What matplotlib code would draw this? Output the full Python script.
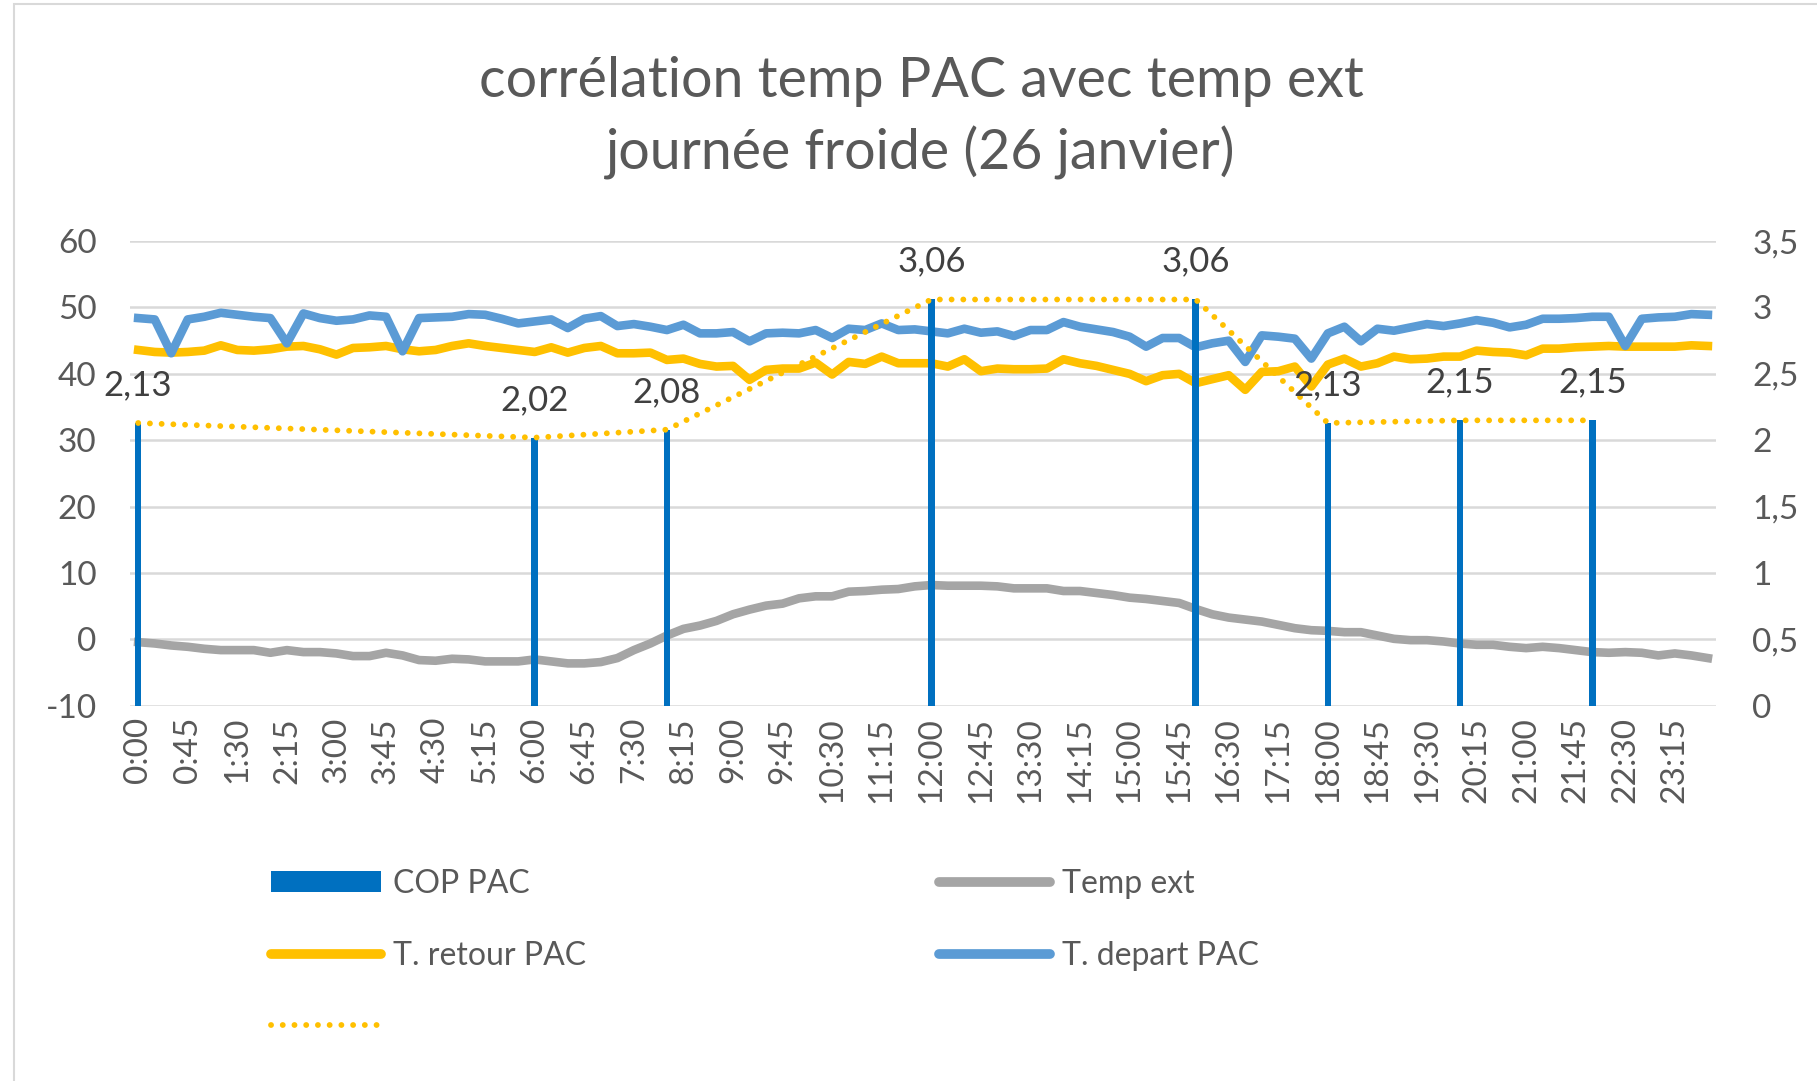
import numpy as np
import matplotlib.pyplot as plt
from matplotlib.lines import Line2D
from matplotlib.patches import Patch, Rectangle

plt.rcParams['font.family'] = ['Lato', 'DejaVu Sans']
plt.rcParams['axes.unicode_minus'] = False

# 15-minute time slots of the day
times = ['%d:%02d' % (m // 60, m % 60) for m in range(0, 24 * 60, 15)]

t_depart = [48.4, 48.2, 43.1, 48.2, 48.6, 49.2, 48.9, 48.6, 48.4, 44.6,
            49.1, 48.4, 48.0, 48.2, 48.8, 48.6, 43.4, 48.4, 48.5, 48.6,
            49.0, 48.9, 48.3, 47.6, 47.9, 48.2, 46.9, 48.3, 48.7, 47.2,
            47.5, 47.1, 46.6, 47.4, 46.1, 46.1, 46.3, 44.9, 46.1, 46.2,
            46.1, 46.6, 45.4, 46.8, 46.6, 47.6, 46.6, 46.7, 46.4, 46.1,
            46.8, 46.2, 46.4, 45.7, 46.6, 46.6, 47.8, 47.1, 46.7, 46.3,
            45.6, 44.1, 45.4, 45.4, 44.0, 44.6, 45.0, 41.8, 45.8, 45.6,
            45.3, 42.3, 46.1, 47.1, 44.9, 46.8, 46.5, 47.0, 47.5, 47.2,
            47.6, 48.1, 47.7, 47.0, 47.4, 48.3, 48.3, 48.4, 48.6, 48.6,
            44.2, 48.3, 48.5, 48.6, 49.0, 48.9]

t_retour = [43.6, 43.3, 43.2, 43.3, 43.5, 44.3, 43.6, 43.5, 43.7, 44.1,
            44.2, 43.7, 42.9, 43.9, 44.0, 44.2, 43.7, 43.4, 43.6, 44.2,
            44.6, 44.2, 43.9, 43.6, 43.3, 44.0, 43.2, 43.9, 44.2, 43.1,
            43.1, 43.2, 42.1, 42.3, 41.5, 41.1, 41.2, 39.1, 40.6, 40.8,
            40.8, 41.7, 39.9, 41.8, 41.5, 42.6, 41.6, 41.6, 41.6, 41.1,
            42.2, 40.4, 40.8, 40.7, 40.7, 40.8, 42.2, 41.6, 41.2, 40.6,
            40.0, 38.9, 39.8, 40.0, 38.6, 39.2, 39.8, 37.6, 40.3, 40.4,
            41.1, 38.1, 41.4, 42.3, 41.1, 41.6, 42.6, 42.2, 42.3, 42.6,
            42.6, 43.5, 43.3, 43.2, 42.8, 43.8, 43.8, 44.0, 44.1, 44.2,
            44.1, 44.1, 44.1, 44.1, 44.3, 44.2]

temp_ext = [-0.4, -0.6, -0.9, -1.1, -1.4, -1.6, -1.6, -1.6, -2.0, -1.6,
            -1.9, -1.9, -2.1, -2.5, -2.5, -2.0, -2.4, -3.1, -3.2, -2.9,
            -3.0, -3.3, -3.3, -3.3, -3.0, -3.3, -3.6, -3.6, -3.4, -2.8,
            -1.6, -0.6, 0.6, 1.6, 2.1, 2.8, 3.8, 4.5, 5.1, 5.4,
            6.2, 6.5, 6.5, 7.2, 7.3, 7.5, 7.6, 8.0, 8.2, 8.1,
            8.1, 8.1, 8.0, 7.7, 7.7, 7.7, 7.3, 7.3, 7.0, 6.7,
            6.3, 6.1, 5.8, 5.5, 4.6, 3.8, 3.3, 3.0, 2.7, 2.2,
            1.7, 1.4, 1.3, 1.1, 1.1, 0.6, 0.1, -0.1, -0.1, -0.3,
            -0.6, -0.8, -0.8, -1.1, -1.3, -1.1, -1.3, -1.6, -1.9, -2.0,
            -1.9, -2.0, -2.4, -2.1, -2.4, -2.8]

cop_times = ['0:00', '6:00', '8:00', '12:00', '16:00', '18:00', '20:00', '22:00']
cop_values = [2.13, 2.02, 2.08, 3.06, 3.06, 2.13, 2.15, 2.15]

C_COP = '#0070C0'
C_EXT = '#A5A5A5'
C_RET = '#FFC000'
C_DEP = '#5B9BD5'
C_TXT = '#595959'

x = np.arange(len(times))
cop_x = [times.index(t) for t in cop_times]

fig = plt.figure(figsize=(18.17, 10.81), dpi=100)
ax = fig.add_axes([0.0715, 0.347, 0.873, 0.430])
ax2 = ax.twinx()

# chart area border
fig.patches.append(Rectangle((14 / 1817, -0.05), 1.1, 1 - 4 / 1081 + 0.05,
                             transform=fig.transFigure, fill=False,
                             edgecolor='#D9D9D9', lw=1.5))

ax.plot(x, temp_ext, color=C_EXT, lw=6.2, solid_joinstyle='round')
ax.plot(x, t_retour, color=C_RET, lw=6.2, solid_joinstyle='round')
ax.plot(x, t_depart, color=C_DEP, lw=6.2, solid_joinstyle='round')

ax2.bar(cop_x, cop_values, width=0.4, color=C_COP, zorder=2)
ax2.plot(cop_x, cop_values, color=C_RET, lw=4.2, linestyle=(0, (0.01, 2.0)),
         dash_capstyle='round', zorder=3)
for xi, v in zip(cop_x, cop_values):
    ax2.annotate(('%.2f' % v).replace('.', ','), (xi, v), xytext=(0, 20),
                 textcoords='offset points', ha='center', va='baseline',
                 fontsize=25, color='#404040')

ax.set_xlim(-0.5, len(times) - 0.5)
ax.set_ylim(-10, 60)
ax.set_yticks(range(-10, 61, 10))
ax2.set_ylim(0, 3.5)
ax2.set_yticks(np.arange(0, 3.51, 0.5))
ax2.set_yticklabels([('%g' % v).replace('.', ',') for v in np.arange(0, 3.51, 0.5)])

ax.set_xticks(x[::3])
ax.set_xticklabels(times[::3], rotation=90)

ax.grid(axis='y', color='#D9D9D9', lw=1.8)
ax.set_axisbelow(True)
for a in (ax, ax2):
    for s in a.spines.values():
        s.set_visible(False)
ax.tick_params(axis='both', length=0, labelsize=24, colors=C_TXT)
ax.tick_params(axis='y', pad=24)
ax.tick_params(axis='x', pad=8)
ax2.tick_params(axis='y', length=0, labelsize=24, colors=C_TXT, pad=26)

fig.text(921 / 1817, 1 - 97 / 1081, 'corrélation temp PAC avec temp ext',
         ha='center', va='baseline', fontsize=40, color=C_TXT)
fig.text(921 / 1817, 1 - 170 / 1081, 'journée froide (26 janvier)',
         ha='center', va='baseline', fontsize=40, color=C_TXT)

handles = [Patch(facecolor=C_COP),
           Line2D([], [], color=C_RET, lw=7, solid_capstyle='round'),
           Line2D([], [], color=C_RET, lw=4.2, linestyle=(0, (0.01, 2.0)),
                  dash_capstyle='round'),
           Line2D([], [], color=C_EXT, lw=7, solid_capstyle='round'),
           Line2D([], [], color=C_DEP, lw=7, solid_capstyle='round')]
labels = ['COP PAC', 'T. retour PAC', '', 'Temp ext', 'T. depart PAC']
fig.legend(handles, labels, ncol=2, loc='upper left',
           bbox_to_anchor=(271 / 1817, 1 - 869 / 1081), frameon=False,
           fontsize=23, labelcolor=C_TXT, handlelength=3.45, handleheight=0.65,
           handletextpad=0.38, columnspacing=11.05, labelspacing=1.3,
           borderpad=0, borderaxespad=0)

fig.savefig('out.png', dpi=100)
